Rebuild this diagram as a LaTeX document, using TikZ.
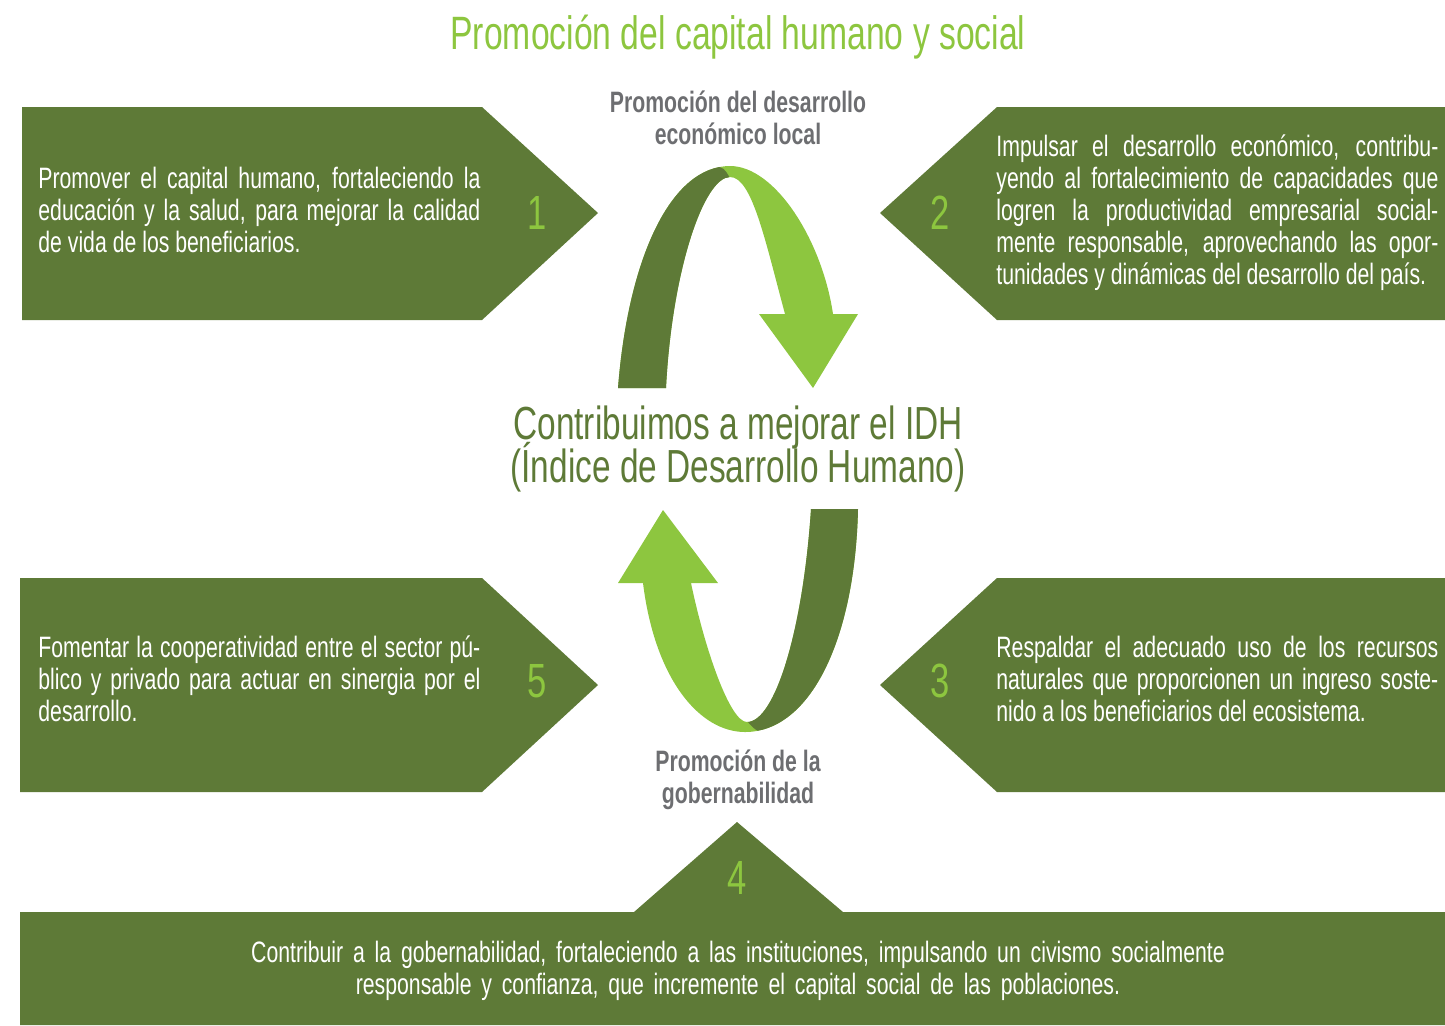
\documentclass[tikz,border=0pt]{standalone}
\usepackage{fontspec}
\setmainfont{Liberation Sans}[FakeStretch=0.72]

\definecolor{darkleaf}{HTML}{5E7A37}
\definecolor{lightleaf}{HTML}{8DC63F}
\definecolor{labelgray}{HTML}{6D6E71}

\tikzset{
  boxtext/.style={anchor=west,inner sep=0pt,text=white,text width=221pt,
    align=justify,font=\fontsize{14.75}{16}\selectfont},
  numtext/.style={text=lightleaf,font=\fontsize{24}{24}\selectfont},
  steplabel/.style={text=labelgray,align=center,
    font=\fontsize{14.75}{16}\selectfont\bfseries}
}

\begin{document}
\begin{tikzpicture}[x=0.5pt,y=-0.5pt]

\useasboundingbox (0,0) rectangle (1445,1025);

% Title
\node[text=lightleaf,font=\fontsize{23.4}{24}\selectfont] (title) at (738,37)
  {Promoción del capital humano y social};

% Boxes
\fill[darkleaf] (22,107) -- (482,107) -- (598,213) -- (482,320) -- (22,320) -- cycle;
\fill[darkleaf] (1445,107) -- (997,107) -- (880,213) -- (997,320) -- (1445,320) -- cycle;
\fill[darkleaf] (20,578) -- (482,578) -- (598,685) -- (482,792) -- (20,792) -- cycle;
\fill[darkleaf] (1445,578) -- (997,578) -- (880,685) -- (997,792) -- (1445,792) -- cycle;
\fill[darkleaf] (20,1025) -- (20,912) -- (634,912) -- (737,822) -- (843,912)
  -- (1445,912) -- (1445,1025) -- cycle;

% Numbers
\node[numtext] (n1) at (537,213) {1};
\node[numtext] (n2) at (940,213) {2};
\node[numtext] (n3) at (940,681) {3};
\node[numtext] (n4) at (737,878) {4};
\node[numtext] (n5) at (537,681) {5};

% Box texts
\node[boxtext] (t1) at (38,210) {Promover el capital humano, fortaleciendo la\linebreak
  educación y la salud, para mejorar la calidad\linebreak
  de vida de los beneficiarios.};
\node[boxtext] (t2) at (996,213) {Impulsar el desarrollo económico, contribu-\linebreak
  yendo al fortalecimiento de capacidades que\linebreak
  logren la productividad empresarial social-\linebreak
  mente responsable, aprovechando las opor-\linebreak
  tunidades y dinámicas del desarrollo del país.};
\node[boxtext] (t3) at (996,679) {Respaldar el adecuado uso de los recursos\linebreak
  naturales que proporcionen un ingreso soste-\linebreak
  nido a los beneficiarios del ecosistema.};
\node[boxtext] (t5) at (38,679) {Fomentar la cooperatividad entre el sector pú-\linebreak
  blico y privado para actuar en sinergia por el\linebreak
  desarrollo.};
\node[boxtext,anchor=center,text width=520pt,align=center] (t4) at (738,971)
  {Contribuir a la gobernabilidad, fortaleciendo a las instituciones, impulsando un civismo socialmente\\
  responsable y confianza, que incremente el capital social de las poblaciones.};

% Labels
\node[steplabel] (econ) at (738,118) {Promoción del desarrollo\\económico local};
\node[steplabel] (gob) at (738,780) {Promoción de la\\gobernabilidad};

% Centre text
\node[text=darkleaf,align=center,
  font={\fontsize{23.2}{21.5}\selectfont\lineskiplimit=-100pt}] (idh) at (738,449)
  {Contribuimos a mejorar el IDH\\(Índice de Desarrollo Humano)};

% Top arrow
\def\toparrow{(618,388) .. controls (628,260) and (670,166) .. (730,166)
  .. controls (775,166) and (822,240) .. (833,314) -- (858,314) -- (813,388)
  -- (759,314) -- (785,314) .. controls (765,240) and (752,177) .. (730,177)
  .. controls (704,177) and (672,270) .. (666,388) -- cycle}
\fill[lightleaf] \toparrow;
\begin{scope}
  \clip \toparrow;
  \fill[darkleaf] (600,400) -- (600,150) -- (715,150) -- (715,166)
    .. controls (724,168) .. (730,178) -- (700,400) -- cycle;
\end{scope}

% Bottom arrow
\def\botarrow{(643,583) .. controls (655,680) and (700,732) .. (745,732)
  .. controls (810,732) and (855,640) .. (858,509) -- (811,509)
  .. controls (803,630) and (775,722) .. (747,722)
  .. controls (730,722) and (705,650) .. (691,583) -- (718,583) -- (663,510)
  -- (618,583) -- cycle}
\fill[lightleaf] \botarrow;
\begin{scope}
  \clip \botarrow;
  \fill[darkleaf] (790,500) -- (900,500) -- (900,750) -- (764,750) -- (764,733)
    .. controls (755,730) .. (747,721) -- cycle;
\end{scope}

\end{tikzpicture}
\end{document}
